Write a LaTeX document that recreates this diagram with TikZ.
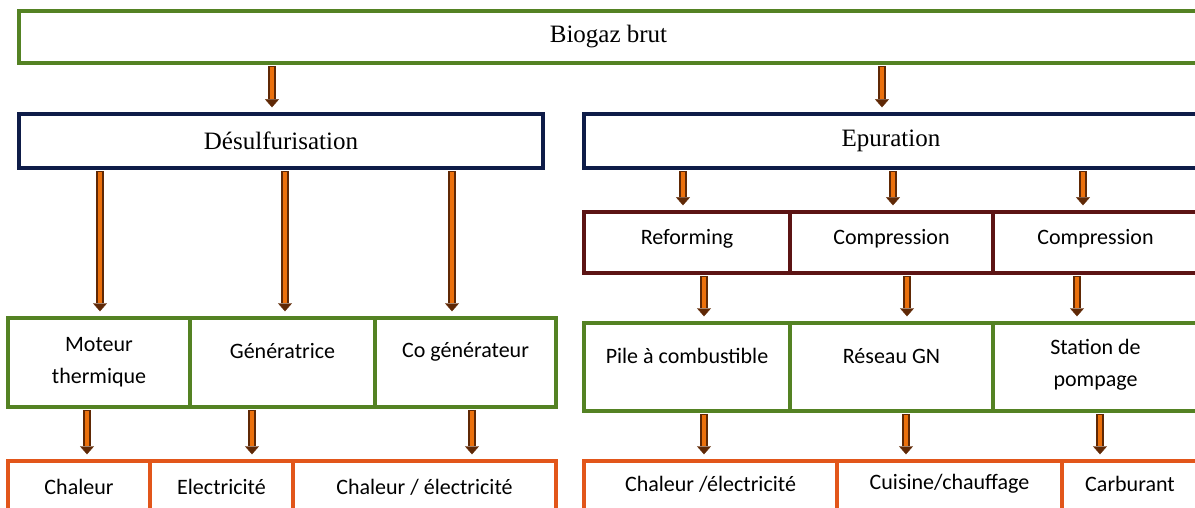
\documentclass[tikz,border=0pt]{standalone}
\usepackage{fontspec}
\setmainfont{Liberation Serif}
\newfontfamily\calib{Carlito}
\usetikzlibrary{arrows.meta,calc}
\definecolor{cgreen}{RGB}{84,130,35}
\definecolor{cnavy}{RGB}{14,28,72}
\definecolor{cmaroon}{RGB}{92,20,20}
\definecolor{corange}{RGB}{226,86,26}
\definecolor{aorange}{RGB}{235,112,12}
\definecolor{adark}{RGB}{95,40,5}
\newcommand\farrow[2]{\draw[arrout] #1 -- #2; \draw[arrin] #1 -- #2;}
\begin{document}
\begin{tikzpicture}[x=1pt,y=-1pt,
  box/.style={draw=#1, line width=3.4pt, rectangle, inner sep=0pt},
  sertxt/.style={font=\fontsize{25}{29}\selectfont},
  santxt/.style={font=\calib\fontsize{22}{32}\selectfont, align=center},
  arrout/.style={draw=adark, line width=7.5pt, shorten <=1.5pt, shorten >=5pt,
    -{Triangle[width=14pt,length=8pt,line width=0.4pt]}},
  arrin/.style={draw=aorange, line width=4pt, shorten <=2.5pt, shorten >=13.5pt}]
\useasboundingbox (0,0) rectangle (1195,508);
% top level
\node[box=cgreen, minimum width=1179pt, minimum height=52pt, sertxt] (top) at (608.5,37) {Biogaz brut};
\node[box=cnavy, minimum width=524pt, minimum height=54pt, sertxt] (des) at (281,141) {Désulfurisation};
\node[box=cnavy, minimum width=614pt, minimum height=54pt, sertxt] (epu) at (891,141) {Epuration};
% left green row
\node[box=cgreen, minimum width=182pt, minimum height=89pt, santxt] (g1) at (99,362.5) {Moteur\\thermique};
\node[box=cgreen, minimum width=185pt, minimum height=89pt, santxt,
  label={[santxt, name=g2t, yshift=11pt]center:Génératrice}] (g2) at (282.5,362.5) {};
\node[box=cgreen, minimum width=181pt, minimum height=89pt, santxt,
  label={[santxt, name=g3t, yshift=11pt]center:Co générateur}] (g3) at (465.5,362.5) {};
% left orange row
\node[box=corange, minimum width=142pt, minimum height=54pt, santxt,
  label={[santxt, name=h1t, yshift=1pt]center:Chaleur}] (h1) at (79,488) {};
\node[box=corange, minimum width=143pt, minimum height=54pt, santxt,
  label={[santxt, name=h2t, yshift=1pt]center:Electricité}] (h2) at (221.5,488) {};
\node[box=corange, minimum width=263pt, minimum height=54pt, santxt,
  label={[santxt, name=h3t, yshift=1pt]center:Chaleur / électricité}] (h3) at (424.5,488) {};
% right maroon row
\node[box=cmaroon, minimum width=206pt, minimum height=61pt, santxt,
  label={[santxt, name=r1t, yshift=4pt]center:Reforming}] (r1) at (687,242.5) {};
\node[box=cmaroon, minimum width=203pt, minimum height=61pt, santxt,
  label={[santxt, name=r2t, yshift=4pt]center:Compression}] (r2) at (891.5,242.5) {};
\node[box=cmaroon, minimum width=205pt, minimum height=61pt, santxt,
  label={[santxt, name=r3t, yshift=4pt]center:Compression}] (r3) at (1095.5,242.5) {};
% right green row
\node[box=cgreen, minimum width=206pt, minimum height=88pt, santxt,
  label={[santxt, name=s1t, yshift=11pt]center:Pile à combustible}] (s1) at (687,367) {};
\node[box=cgreen, minimum width=203pt, minimum height=88pt, santxt,
  label={[santxt, name=s2t, yshift=11pt]center:Réseau GN}] (s2) at (891.5,367) {};
\node[box=cgreen, minimum width=205pt, minimum height=88pt, santxt,
  label={[santxt, name=s3t, yshift=2pt]center:Station de\\pompage}] (s3) at (1095.5,367) {};
% right orange row
\node[box=corange, minimum width=253pt, minimum height=54pt, santxt,
  label={[santxt, name=t1t, yshift=4pt]center:Chaleur /électricité}] (t1) at (710.5,488) {};
\node[box=corange, minimum width=225pt, minimum height=54pt, santxt,
  label={[santxt, name=t2t, yshift=4pt]center:Cuisine/chauffage}] (t2) at (949.5,488) {};
\node[box=corange, minimum width=136pt, minimum height=54pt, santxt,
  label={[santxt, name=t3t, yshift=4pt]center:Carburant}] (t3) at (1130,488) {};
% arrows
\farrow{($(des.north |- top.south)+(-9,0)$)}{($(des.north)+(-9,0)$)}
\farrow{($(epu.north |- top.south)+(-9,0)$)}{($(epu.north)+(-9,0)$)}
\farrow{($(g1.north |- des.south)+(1,0)$)}{($(g1.north)+(1,0)$)}
\farrow{($(g2.north |- des.south)+(2.5,0)$)}{($(g2.north)+(2.5,0)$)}
\farrow{($(g3.north |- des.south)+(-13.5,0)$)}{($(g3.north)+(-13.5,0)$)}
\farrow{($(r1.north |- epu.south)+(-4,0)$)}{($(r1.north)+(-4,0)$)}
\farrow{($(r2.north |- epu.south)+(1.5,0)$)}{($(r2.north)+(1.5,0)$)}
\farrow{($(r3.north |- epu.south)+(-12.5,0)$)}{($(r3.north)+(-12.5,0)$)}
\farrow{($(r1.south)+(17,0)$)}{($(s1.north)+(17,0)$)}
\farrow{($(r2.south)+(15.5,0)$)}{($(s2.north)+(15.5,0)$)}
\farrow{($(r3.south)+(-18.5,0)$)}{($(s3.north)+(-18.5,0)$)}
\farrow{($(s1.south)+(17,0)$)}{($(s1.south |- t1.north)+(17,0)$)}
\farrow{($(s2.south)+(14.5,0)$)}{($(s2.south |- t2.north)+(14.5,0)$)}
\farrow{($(s3.south)+(4.5,0)$)}{($(s3.south |- t3.north)+(4.5,0)$)}
\farrow{($(g1.south)+(-12,0)$)}{($(g1.south |- h1.north)+(-12,0)$)}
\farrow{($(g2.south)+(-30.5,0)$)}{($(g2.south |- h2.north)+(-30.5,0)$)}
\farrow{($(g3.south)+(6.5,0)$)}{($(g3.south |- h3.north)+(6.5,0)$)}
\end{tikzpicture}
\end{document}
